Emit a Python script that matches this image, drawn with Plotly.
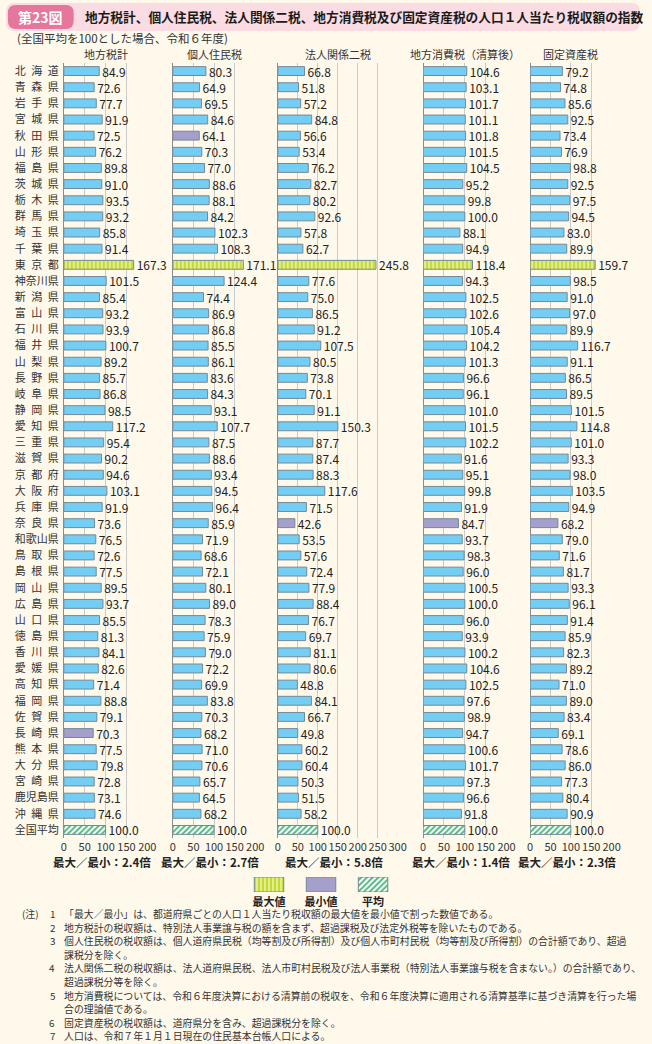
import plotly.graph_objects as go

# ---------------- data ----------------
prefectures = ["北海道", "青森県", "岩手県", "宮城県", "秋田県", "山形県", "福島県", "茨城県",
               "栃木県", "群馬県", "埼玉県", "千葉県", "東京都", "神奈川県", "新潟県", "富山県",
               "石川県", "福井県", "山梨県", "長野県", "岐阜県", "静岡県", "愛知県", "三重県",
               "滋賀県", "京都府", "大阪府", "兵庫県", "奈良県", "和歌山県", "鳥取県", "島根県",
               "岡山県", "広島県", "山口県", "徳島県", "香川県", "愛媛県", "高知県", "福岡県",
               "佐賀県", "長崎県", "熊本県", "大分県", "宮崎県", "鹿児島県", "沖縄県", "全国平均"]

chiho_zeikei = [84.9, 72.6, 77.7, 91.9, 72.5, 76.2, 89.8, 91.0, 93.5, 93.2, 85.8, 91.4,
                167.3, 101.5, 85.4, 93.2, 93.9, 100.7, 89.2, 85.7, 86.8, 98.5, 117.2, 95.4,
                90.2, 94.6, 103.1, 91.9, 73.6, 76.5, 72.6, 77.5, 89.5, 93.7, 85.5, 81.3,
                84.1, 82.6, 71.4, 88.8, 79.1, 70.3, 77.5, 79.8, 72.8, 73.1, 74.6, 100.0]

kojin_juminzei = [80.3, 64.9, 69.5, 84.6, 64.1, 70.3, 77.0, 88.6, 88.1, 84.2, 102.3, 108.3,
                  171.1, 124.4, 74.4, 86.9, 86.8, 85.5, 86.1, 83.6, 84.3, 93.1, 107.7, 87.5,
                  88.6, 93.4, 94.5, 96.4, 85.9, 71.9, 68.6, 72.1, 80.1, 89.0, 78.3, 75.9,
                  79.0, 72.2, 69.9, 83.8, 70.3, 68.2, 71.0, 70.6, 65.7, 64.5, 68.2, 100.0]

hojin_nizei = [66.8, 51.8, 57.2, 84.8, 56.6, 53.4, 76.2, 82.7, 80.2, 92.6, 57.8, 62.7,
               245.8, 77.6, 75.0, 86.5, 91.2, 107.5, 80.5, 73.8, 70.1, 91.1, 150.3, 87.7,
               87.4, 88.3, 117.6, 71.5, 42.6, 53.5, 57.6, 72.4, 77.9, 88.4, 76.7, 69.7,
               81.1, 80.6, 48.8, 84.1, 66.7, 49.8, 60.2, 60.4, 50.3, 51.5, 58.2, 100.0]

chiho_shohizei = [104.6, 103.1, 101.7, 101.1, 101.8, 101.5, 104.5, 95.2, 99.8, 100.0, 88.1, 94.9,
                  118.4, 94.3, 102.5, 102.6, 105.4, 104.2, 101.3, 96.6, 96.1, 101.0, 101.5, 102.2,
                  91.6, 95.1, 99.8, 91.9, 84.7, 93.7, 98.3, 96.0, 100.5, 100.0, 96.0, 93.9,
                  100.2, 104.6, 102.5, 97.6, 98.9, 94.7, 100.6, 101.7, 97.3, 96.6, 91.8, 100.0]

kotei_shisanzei = [79.2, 74.8, 85.6, 92.5, 73.4, 76.9, 98.8, 92.5, 97.5, 94.5, 83.0, 89.9,
                   159.7, 98.5, 91.0, 97.0, 89.9, 116.7, 91.1, 86.5, 89.5, 101.5, 114.8, 101.0,
                   93.3, 98.0, 103.5, 94.9, 68.2, 79.0, 71.6, 81.7, 93.3, 96.1, 91.4, 85.9,
                   82.3, 89.2, 71.0, 89.0, 83.4, 69.1, 78.6, 86.0, 77.3, 80.4, 90.9, 100.0]

panel_titles = ["地方税計", "個人住民税", "法人関係二税", "地方消費税（清算後）", "固定資産税"]
panel_values = [chiho_zeikei, kojin_juminzei, hojin_nizei, chiho_shohizei, kotei_shisanzei]
axis_max = [200, 200, 300, 200, 200]
tick_vals = [0, 50, 100, 150, 200, 250, 300]
legend_labels = ["最大値", "最小値", "平均"]

title_num = "第23図"
title_text = "地方税計、個人住民税、法人関係二税、地方消費税及び固定資産税の人口１人当たり税収額の指数"
subtitle = "(全国平均を100とした場合、令和６年度)"
notes = [
    ("(注)", "1", "「最大／最小」は、都道府県ごとの人口１人当たり税収額の最大値を最小値で割った数値である。"),
    ("", "2", "地方税計の税収額は、特別法人事業譲与税の額を含まず、超過課税及び法定外税等を除いたものである。"),
    ("", "3", "個人住民税の税収額は、個人道府県民税（均等割及び所得割）及び個人市町村民税（均等割及び所得割）の合計額であり、超過"),
    ("", "", "課税分を除く。"),
    ("", "4", "法人関係二税の税収額は、法人道府県民税、法人市町村民税及び法人事業税（特別法人事業譲与税を含まない。）の合計額であり、"),
    ("", "", "超過課税分等を除く。"),
    ("", "5", "地方消費税については、令和６年度決算における清算前の税収を、令和６年度決算に適用される清算基準に基づき清算を行った場"),
    ("", "", "合の理論値である。"),
    ("", "6", "固定資産税の税収額は、道府県分を含み、超過課税分を除く。"),
    ("", "7", "人口は、令和７年１月１日現在の住民基本台帳人口による。"),
]

# ---------------- styling / layout ----------------
W, H = 652, 1044
FONT = "Noto Sans CJK JP"
BG = "#FEF9EB"
TOP, BOT = 63, 904          # plot area in pixels
PH = BOT - TOP
AX_BOTTOM = 838             # bottom of bar panels
panel_px = [(62, 147), (173, 257), (280, 402), (428, 513), (537, 620)]

C_NORMAL = "#74CEF4"
C_MIN = "#A49FCB"
C_EDGE = "#72899A"
STYLE_MAX = dict(color="#C6DA34", pattern=dict(shape="|", fgcolor="#EEF4B8", fgopacity=1,
                                                fillmode="overlay", size=4, solidity=0.35))
STYLE_AVG = dict(color="#FFFFFF", pattern=dict(shape="/", fgcolor="#3DB072", fgopacity=1,
                                                fillmode="overlay", size=4, solidity=0.45))
STYLE_MIN = dict(color=C_MIN)


def px_x(x):
    return x / W


def px_y(y):
    return (BOT - y) / PH


def rrect(x0, y0, x1, y1, r):
    X = lambda v: f"{px_x(v):.5f}"
    Y = lambda v: f"{px_y(v):.5f}"
    return (f"M{X(x0 + r)},{Y(y0)} L{X(x1 - r)},{Y(y0)} Q{X(x1)},{Y(y0)} {X(x1)},{Y(y0 + r)} "
            f"L{X(x1)},{Y(y1 - r)} Q{X(x1)},{Y(y1)} {X(x1 - r)},{Y(y1)} "
            f"L{X(x0 + r)},{Y(y1)} Q{X(x0)},{Y(y1)} {X(x0)},{Y(y1 - r)} "
            f"L{X(x0)},{Y(y0 + r)} Q{X(x0)},{Y(y0)} {X(x0 + r)},{Y(y0)} Z")


def disp(name):
    return "\u2002".join(name) if len(name) == 3 else name


names = [disp(p) for p in prefectures]

fig = go.Figure()
annotations = []

for i, vals in enumerate(panel_values):
    pref_vals = vals[:-1]
    imax = pref_vals.index(max(pref_vals))
    imin = pref_vals.index(min(pref_vals))
    iavg = len(vals) - 1
    xa = "x" if i == 0 else f"x{i + 1}"
    groups = [
        ([k for k in range(len(vals)) if k not in (imax, iavg)], None),
        ([imax], STYLE_MAX),
        ([iavg], STYLE_AVG),
    ]
    for idx, style in groups:
        if style is None:
            marker = dict(color=[C_MIN if k == imin else C_NORMAL for k in idx])
        else:
            marker = dict(style)
        marker["line"] = dict(color=C_EDGE, width=1)
        fig.add_trace(go.Bar(
            x=[vals[k] for k in idx], y=[names[k] for k in idx], orientation="h",
            xaxis=xa, yaxis="y", width=0.55, marker=marker,
            text=[f"{vals[k]:.1f}" for k in idx], textposition="outside",
            textfont=dict(family=FONT, size=12, color="#222"),
            cliponaxis=False, constraintext="none", hoverinfo="skip", showlegend=False))

    key = "xaxis" if i == 0 else f"xaxis{i + 1}"
    x0, x1 = panel_px[i]
    fig.layout[key] = dict(
        domain=[px_x(x0), px_x(x1)], anchor="y", range=[0, axis_max[i]],
        tickvals=[t for t in tick_vals if t <= axis_max[i]], tickangle=0,
        showgrid=True, gridcolor="#CBCBCB", gridwidth=1,
        zeroline=True, zerolinecolor="#8C8C8C", zerolinewidth=1,
        showline=False, ticks="", ticklabelstandoff=1,
        tickfont=dict(family=FONT, size=11, color="#333"), fixedrange=True)

    cx = (x0 + x1) / 2
    annotations.append(dict(x=px_x(cx), y=px_y(54), xref="paper", yref="paper",
                            text=panel_titles[i], showarrow=False, xanchor="center", yanchor="middle",
                            font=dict(family=FONT, size=11, color="#333")))
    ratio = max(pref_vals) / min(pref_vals)
    annotations.append(dict(x=px_x(cx - 4), y=px_y(862), xref="paper", yref="paper",
                            text=f"最大／最小：{ratio:.1f}倍", showarrow=False,
                            xanchor="center", yanchor="middle",
                            font=dict(family=FONT, size=11.5, color="#222", weight="bold")))

fig.update_layout(yaxis=dict(
    domain=[px_y(AX_BOTTOM), 1], anchor="x", type="category", categoryarray=names,
    range=[len(names) - 0.5, -0.5], showgrid=False, zeroline=False, showline=False,
    ticks="", ticklabelstandoff=4, tickfont=dict(family=FONT, size=11, color="#333"),
    fixedrange=True))

# legend drawn as a small categorical bar chart
for lab, style in zip(legend_labels, [STYLE_MAX, STYLE_MIN, STYLE_AVG]):
    m = dict(style)
    m["line"] = dict(color=C_EDGE, width=1)
    fig.add_trace(go.Bar(x=[lab], y=[1], xaxis="x6", yaxis="y2", width=0.566, marker=m,
                         hoverinfo="skip", showlegend=False))
fig.update_layout(
    xaxis6=dict(domain=[px_x(244.5), px_x(403.5)], anchor="y2", type="category",
                categoryarray=legend_labels, categoryorder="array",
                showgrid=False, zeroline=False, showline=False, ticks="",
                ticklabelstandoff=2,
                tickfont=dict(family=FONT, size=11, color="#222", weight="bold"), fixedrange=True),
    yaxis2=dict(domain=[px_y(892), px_y(877)], anchor="x6", range=[0, 1], visible=False,
                fixedrange=True))

# title band
shapes = [
    dict(type="path", path=rrect(3, 3, 649, 31, 9), xref="paper", yref="paper",
         fillcolor="#FBDCE2", line=dict(width=0), layer="below"),
    dict(type="path", path=rrect(5, 5, 72, 29, 8), xref="paper", yref="paper",
         fillcolor="#E6769B", line=dict(width=0), layer="below"),
]
annotations.append(dict(x=px_x(38.5), y=px_y(17), xref="paper", yref="paper", text=title_num,
                        showarrow=False, xanchor="center", yanchor="middle",
                        font=dict(family=FONT, size=14, color="white", weight="bold")))
annotations.append(dict(x=px_x(82), y=px_y(17), xref="paper", yref="paper", text=title_text,
                        showarrow=False, xanchor="left", yanchor="middle",
                        font=dict(family=FONT, size=12.7, color="#1A1A1A", weight="bold")))
annotations.append(dict(x=px_x(12), y=px_y(38), xref="paper", yref="paper", text=subtitle,
                        showarrow=False, xanchor="left", yanchor="middle",
                        font=dict(family=FONT, size=11.5, color="#333")))

# notes
y = 914
for head, num, txt in notes:
    if head:
        annotations.append(dict(x=px_x(17), y=px_y(y), xref="paper", yref="paper", text=head,
                                showarrow=False, xanchor="left", yanchor="middle",
                                font=dict(family=FONT, size=9.9, color="#333")))
    if num:
        annotations.append(dict(x=px_x(50), y=px_y(y), xref="paper", yref="paper", text=num,
                                showarrow=False, xanchor="center", yanchor="middle",
                                font=dict(family=FONT, size=9.9, color="#333")))
    annotations.append(dict(x=px_x(60), y=px_y(y), xref="paper", yref="paper", text=txt,
                            showarrow=False, xanchor="left", yanchor="middle",
                            font=dict(family=FONT, size=9.9, color="#333")))
    y += 13.6

fig.update_layout(
    width=W, height=H, margin=dict(l=0, r=0, t=TOP, b=H - BOT),
    paper_bgcolor=BG, plot_bgcolor=BG, barmode="overlay",
    font=dict(family=FONT, color="#333"),
    shapes=shapes, annotations=annotations, showlegend=False)

fig.write_html("out.html", config={"displayModeBar": False})
